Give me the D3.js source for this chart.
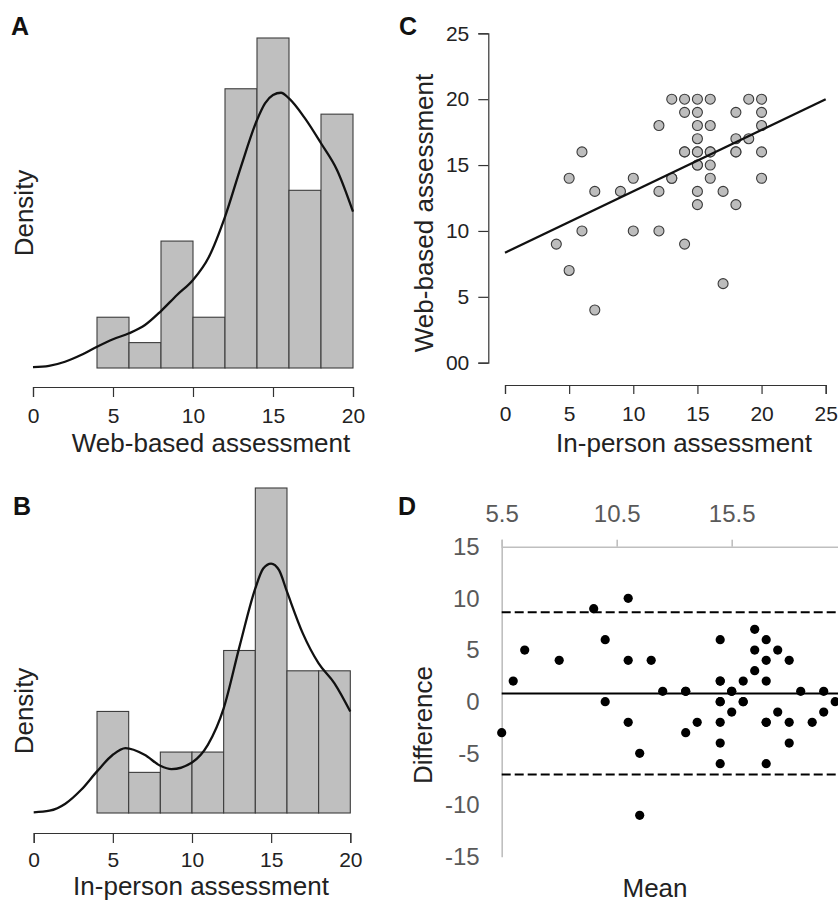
<!DOCTYPE html>
<html>
<head>
<meta charset="utf-8">
<title>web vs in-person assessment</title>
<script src="https://d3js.org/d3.v7.min.js"></script>
<style>
body{margin:0;background:#fff;}
svg{display:block;font-family:"Liberation Sans",Arial,sans-serif;}
</style>
</head>
<body>
<script>
var W=838, H=902;

// histogram bins (A: web-based, B: in-person), counts
var binEdges=[4,6,8,10,12,14,16,18,20];
var webCounts=[2,1,5,2,11,13,7,10];
var personCounts=[5,2,3,3,8,16,7,7];

// density curves
var webDensX=[0,1,2,3,4,5,6,7,8,9,10,11,12,13,14,14.5,15,15.5,16,17,18,19,20];
var webDens=[0.0003,0.0008,0.0024,0.0050,0.0082,0.0111,0.0134,0.0166,0.0220,0.0282,0.0340,0.0430,0.0584,0.0778,0.0958,0.1022,0.1054,0.1063,0.1041,0.0964,0.0868,0.0765,0.0604];
var personDensX=[0,1,2,3,4,5,5.8,7,8,8.7,10,11,12,13,14,14.5,15,15.5,16,17,18,19,20];
var personDens=[0.0003,0.0011,0.0045,0.0112,0.0201,0.0281,0.0313,0.0281,0.0228,0.0212,0.0244,0.0329,0.0505,0.0803,0.1084,0.1180,0.1204,0.1172,0.1068,0.0867,0.0722,0.0626,0.0490];

// paired scores (C scatter, D Bland-Altman)
var inPerson=[13,14,15,16,19,20, 14,15,18,20, 12,15,16,20, 15,18,19, 6,14,15,16,18,20, 15,16, 5,10,13,16,20, 7,9,12,15,17, 15,18, 6,10,12, 4,14, 5,17,7, 13,14,18,15,16,15];
var webBased=[20,20,20,20,20,20, 19,19,19,19, 18,18,18,18, 17,17,17, 16,16,16,16,16,16, 15,15, 14,14,14,14,14, 13,13,13,13,13, 12,12, 10,10,10, 9,9, 7,6,4, 14,16,16,15,16,16];

// regression line in C
var regIntercept=8.35, regSlope=0.466;

// Bland-Altman reference lines
var baMean=0.8, baUpper=8.65, baLower=-7.05;

var histTicks=[0,5,10,15,20];
var scatterTicks=[0,5,10,15,20,25];
var scatterYLabels=["00","5","10","15","20","25"];
var meanTicks=[5.5,10.5,15.5];
var diffTicks=[-15,-10,-5,0,5,10,15];

var svg=d3.select("body").append("svg")
    .attr("width",W)
    .attr("height",H);
svg.append("rect").attr("width",W).attr("height",H).attr("fill","#fff");

function styleAxis(g,size,color){
    g.attr("font-family",null).attr("font-size",null);
    g.selectAll("path,line").attr("stroke",color).attr("stroke-width",1.2);
    g.selectAll("text").attr("fill",color==="#bfbfbf"?"#595959":"#222").style("font-size",size+"px");
}

// ---------- histograms A and B ----------
function drawHist(o){
    var n=d3.sum(o.counts);
    var bins=o.counts.map(function(c,i){
        var w=binEdges[i+1]-binEdges[i];
        return {x0:binEdges[i],x1:binEdges[i+1],d:c/(n*w)};
    });
    var x=d3.scaleLinear().domain([0,20]).range([o.left,o.right]);
    var y=d3.scaleLinear().domain([0,d3.max(bins,function(b){return b.d;})]).range([o.base,o.top]);
    var g=svg.append("g");

    g.selectAll("rect.bar")
        .data(bins)
        .enter()
        .append("rect")
        .attr("class","bar")
        .attr("x",function(b){return x(b.x0);})
        .attr("width",function(b){return x(b.x1)-x(b.x0);})
        .attr("y",function(b){return y(b.d);})
        .attr("height",function(b){return y(0)-y(b.d);})
        .attr("fill","#bfbfbf")
        .attr("stroke","#3c3c3c")
        .attr("stroke-width",1.1);

    var line=d3.line()
        .x(function(d){return x(d[0]);})
        .y(function(d){return y(d[1]);})
        .curve(d3.curveMonotoneX);
    g.append("path")
        .datum(d3.zip(o.densX,o.dens))
        .attr("d",line)
        .attr("fill","none")
        .attr("stroke","#111")
        .attr("stroke-width",2.3);

    var ax=g.append("g")
        .attr("transform","translate(0,"+o.axisY+")")
        .call(d3.axisBottom(x).tickValues(histTicks).tickSizeOuter(0).tickSize(10).tickPadding(o.pad));
    styleAxis(ax,21,"#333");

    g.append("text")
        .attr("x",o.titleX).attr("y",o.titleY)
        .attr("text-anchor","middle")
        .style("font-size","26px").attr("fill","#222")
        .text(o.title);
    g.append("text")
        .attr("transform","translate("+o.densX0+","+o.densY0+") rotate(-90)")
        .attr("text-anchor","middle")
        .style("font-size","26px").attr("fill","#222")
        .text("Density");
    g.append("text")
        .attr("x",o.letterX).attr("y",o.letterY)
        .style("font-size","25px").style("font-weight","bold").attr("fill","#111")
        .text(o.letter);
}

drawHist({counts:webCounts,densX:webDensX,dens:webDens,left:33,right:353,base:368,top:38,
    axisY:387,pad:11,title:"Web-based assessment",titleX:211,titleY:452,
    densX0:33,densY0:213,letter:"A",letterX:11,letterY:35});
drawHist({counts:personCounts,densX:personDensX,dens:personDens,left:33.7,right:350.3,base:813,top:488,
    axisY:833,pad:9,title:"In-person assessment",titleX:201,titleY:895,
    densX0:33,densY0:711,letter:"B",letterX:13,letterY:515});

// ---------- C scatter ----------
var xC=d3.scaleLinear().domain([0,25]).range([505,825.7]);
var yC=d3.scaleLinear().domain([0,25]).range([362.7,33.3]);
var gC=svg.append("g");

var axCx=gC.append("g").attr("transform","translate(0,385)")
    .call(d3.axisBottom(xC).tickValues(scatterTicks).tickSizeOuter(0).tickSize(9).tickPadding(12));
styleAxis(axCx,21,"#333");
var axCy=gC.append("g").attr("transform","translate(488.3,0)")
    .call(d3.axisLeft(yC).tickValues(scatterTicks).tickSizeOuter(0).tickSize(10).tickPadding(9)
        .tickFormat(function(d,i){return scatterYLabels[i];}));
styleAxis(axCy,21,"#333");

var pairs=d3.zip(inPerson,webBased);
gC.selectAll("circle")
    .data(pairs)
    .enter()
    .append("circle")
    .attr("cx",function(d){return xC(d[0]);})
    .attr("cy",function(d){return yC(d[1]);})
    .attr("r",5)
    .attr("fill","#bdbdbd")
    .attr("stroke","#3a3a3a")
    .attr("stroke-width",1.1);

gC.append("line")
    .attr("x1",xC(0)).attr("y1",yC(regIntercept))
    .attr("x2",xC(25)).attr("y2",yC(regIntercept+regSlope*25))
    .attr("stroke","#111").attr("stroke-width",2.3);

gC.append("text").attr("x",684).attr("y",452).attr("text-anchor","middle")
    .style("font-size","26px").attr("fill","#222").text("In-person assessment");
gC.append("text").attr("transform","translate(433,213) rotate(-90)").attr("text-anchor","middle")
    .style("font-size","26px").attr("fill","#222").text("Web-based assessment");
gC.append("text").attr("x",399).attr("y",35)
    .style("font-size","25px").style("font-weight","bold").attr("fill","#111").text("C");

// ---------- D Bland-Altman ----------
var xD=d3.scaleLinear().domain([5.5,20.5]).range([501.7,846.7]);
var yD=d3.scaleLinear().domain([-15,15]).range([856.7,546.7]);
var gD=svg.append("g");

var axDx=gD.append("g").attr("transform","translate(0,546.7)")
    .call(d3.axisTop(xD).tickValues(meanTicks).tickSizeOuter(0).tickSize(7).tickPadding(18)
        .tickFormat(function(d){return String(d);}));
styleAxis(axDx,24,"#bfbfbf");
var axDy=gD.append("g").attr("transform","translate(501.7,0)")
    .call(d3.axisLeft(yD).tickValues(diffTicks).tickSizeOuter(0).tickSize(0).tickPadding(22)
        .tickFormat(function(d){return String(d);}));
styleAxis(axDy,24,"#bfbfbf");
axDx.selectAll("path,line").attr("stroke-width",1.6);
axDy.selectAll("path").attr("stroke-width",1.6);

var refLines=[{v:baUpper,dash:"9,4"},{v:baMean,dash:null},{v:baLower,dash:"9,4"}];
gD.selectAll("line.ref")
    .data(refLines)
    .enter()
    .append("line")
    .attr("class","ref")
    .attr("x1",xD.range()[0]).attr("x2",W)
    .attr("y1",function(d){return yD(d.v);})
    .attr("y2",function(d){return yD(d.v);})
    .attr("stroke","#000").attr("stroke-width",2)
    .attr("stroke-dasharray",function(d){return d.dash;});

gD.selectAll("circle")
    .data(pairs)
    .enter()
    .append("circle")
    .attr("cx",function(d){return xD((d[0]+d[1])/2);})
    .attr("cy",function(d){return yD(d[1]-d[0]);})
    .attr("r",4.6)
    .attr("fill","#000");

gD.append("text").attr("x",655).attr("y",897).attr("text-anchor","middle")
    .style("font-size","26px").attr("fill","#222").text("Mean");
gD.append("text").attr("transform","translate(432,725) rotate(-90)").attr("text-anchor","middle")
    .style("font-size","26px").attr("fill","#222").text("Difference");
gD.append("text").attr("x",398).attr("y",515)
    .style("font-size","25px").style("font-weight","bold").attr("fill","#111").text("D");
</script>
</body>
</html>
